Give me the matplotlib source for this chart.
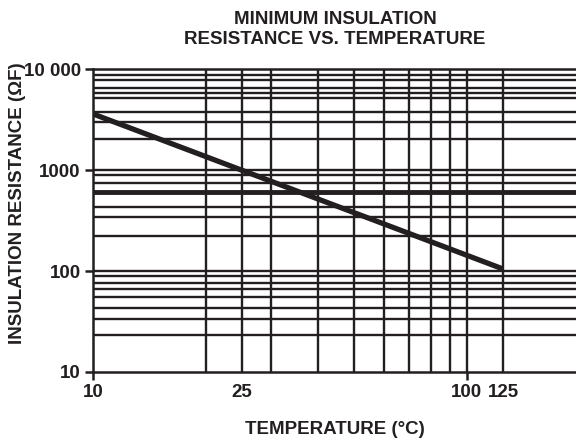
import numpy as np
import matplotlib
matplotlib.use('Agg')
import matplotlib.pyplot as plt
from matplotlib import ticker

# data
temp = [10, 125]
ir = [3600, 105]

# vertical grid (degC) and horizontal grid (ohm*F)
x_grid = [20, 25, 30, 40, 50, 60, 70, 80, 90, 100, 125]
y_grid = [8850, 7900, 6550, 5800, 5200, 3770, 2970, 2060,
          1000, 895, 745, 435, 340, 224,
          100, 89, 76, 66.5, 55, 43, 33.5, 23.4]
y_grid_thick = [610]

x_ticks = [10, 100]
x_tick_labels = ['10', '100']
x_extra = [25, 125]
x_extra_labels = ['25', '125']
y_ticks = [10, 100, 1000, 10000]
y_labels = ['10', '100', '1000', '10 000']

ink = '#231f20'
plt.rcParams['font.family'] = ['Liberation Sans', 'DejaVu Sans']
plt.rcParams['font.weight'] = 'bold'
fs = 13.5

fig = plt.figure(figsize=(5.76, 4.41), dpi=100)
ax = fig.add_axes([0.162, 0.1565, 0.8435, 0.6864])
ax.set_xscale('log')
ax.set_yscale('log')
ax.set_xlim(10, 200)
ax.set_ylim(10, 10000)

for xv in x_grid:
    ax.axvline(xv, color=ink, lw=1.7, zorder=1)
for yv in y_grid:
    ax.axhline(yv, color=ink, lw=1.7, zorder=1)
for yv in y_grid_thick:
    ax.axhline(yv, color=ink, lw=3.5, zorder=1)

ax.plot(temp, ir, color=ink, lw=3.8, solid_capstyle='butt', zorder=3)

ax.spines['right'].set_visible(False)
for s in ['left', 'bottom', 'top']:
    ax.spines[s].set_linewidth(1.8)
    ax.spines[s].set_color(ink)

ax.xaxis.set_major_locator(ticker.FixedLocator(x_ticks))
ax.xaxis.set_major_formatter(ticker.FixedFormatter(x_tick_labels))
ax.xaxis.set_minor_locator(ticker.FixedLocator(x_extra))
ax.xaxis.set_minor_formatter(ticker.FixedFormatter(x_extra_labels))
ax.tick_params(axis='x', which='major', length=6, width=1.8, color=ink,
               pad=3, labelsize=fs, labelcolor=ink)
ax.tick_params(axis='x', which='minor', length=0, pad=9,
               labelsize=fs, labelcolor=ink)

ax.yaxis.set_major_locator(ticker.FixedLocator(y_ticks))
ax.yaxis.set_major_formatter(ticker.FixedFormatter(y_labels))
ax.yaxis.set_minor_locator(ticker.NullLocator())
ax.tick_params(axis='y', which='major', length=6, width=1.8, color=ink,
               pad=3, labelsize=fs, labelcolor=ink)
for lab in ax.get_xticklabels() + ax.get_xticklabels(minor=True) + ax.get_yticklabels():
    lab.set_fontweight('bold')

fig.text(335/576, 1 - 19.7/441, 'MINIMUM INSULATION', ha='center', va='center',
         fontsize=fs, fontweight='bold', color=ink)
fig.text(335/576, 1 - 39.5/441, 'RESISTANCE VS. TEMPERATURE', ha='center', va='center',
         fontsize=fs, fontweight='bold', color=ink)
fig.text(335/576, 1 - 429/441, 'TEMPERATURE (°C)', ha='center', va='center',
         fontsize=fs, fontweight='bold', color=ink)
fig.text(18/576, 1 - 203/441, 'INSULATION RESISTANCE (ΩF)', ha='center', va='center',
         rotation=90, fontsize=fs, fontweight='bold', color=ink)

fig.savefig('out.png', dpi=100)
